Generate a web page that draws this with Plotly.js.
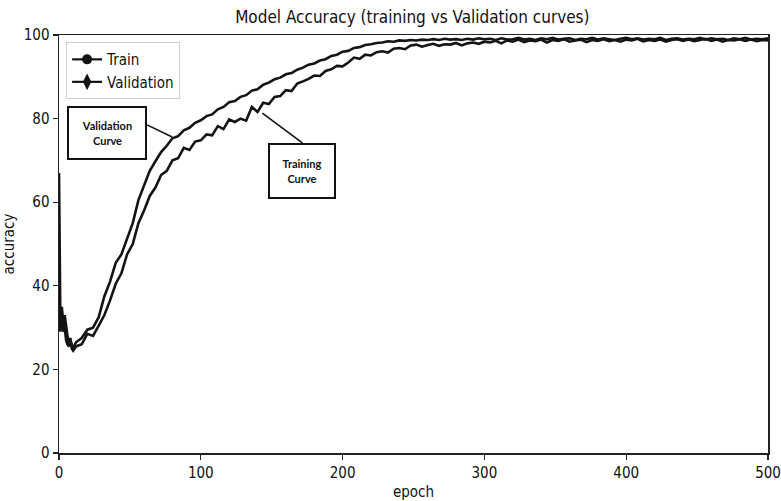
<!DOCTYPE html>
<html>
<head>
<meta charset="utf-8">
<script src="https://cdn.plot.ly/plotly-3.0.1.min.js"></script>
<style>html,body{margin:0;padding:0;background:#fff}#chart{width:781px;height:501px}</style>
</head>
<body>
<div id="chart"></div>
<script>
const epochs = [0,1,2,3,4,5,6,7,8,9,10,12,16,20,24,28,32,36,40,44,48,52,56,60,64,68,72,76,80,84,88,92,96,100,104,108,112,116,120,124,128,132,136,140,144,148,152,156,160,164,168,172,176,180,184,188,192,196,200,204,208,212,216,220,224,228,232,236,240,244,248,252,256,260,264,268,272,276,280,284,288,292,296,300,304,308,312,316,320,324,328,332,336,340,344,348,352,356,360,364,368,372,376,380,384,388,392,396,400,404,408,412,416,420,424,428,432,436,440,444,448,452,456,460,464,468,472,476,480,484,488,492,496,500];

const trainAcc = [67,30,35,29,33,30,28,26,27.5,25,24.5,
  25.5,26,28.5,28,30.5,33,36.5,40.5,43,47.5,50,55,58,61.5,63.5,66.5,67.5,70,70.5,73,72.5,74.5,74.8,
  76.2,76,78.2,77.5,79.8,79.2,80,79.5,82.8,81.6,83.8,83.5,85.2,85.4,86.8,86.6,88.4,88.9,89.5,90.3,90.2,
  91.4,91.8,92.6,92.5,93.4,94.6,94.3,95.3,95.1,95.9,96.1,95.8,96.7,96.9,96.6,97.5,97.7,97.2,97.6,97.9,
  97.4,97.8,97.7,98.1,97.5,98,98.2,97.9,98.4,
  98.2,98.6,98.0,98.7,98.4,98.9,98.3,98.7,98.5,98.9,
  98.2,98.8,98.6,99.0,98.4,98.7,98.9,98.3,98.8,98.6,
  99.0,98.5,98.8,98.4,98.9,98.7,99.1,98.5,98.8,98.6,
  98.9,98.4,98.8,99.0,98.6,98.9,98.5,98.8,99.1,98.6,
  98.9,98.4,98.8,98.7,99.0,98.6,98.9,98.5,98.8,98.7];

const valAcc = [36,29,34,31,30,27,26,25.5,27,26,25,
  26.5,27.5,29.5,30,32.5,37.5,41,45.5,47.5,51.5,55,60.5,64,67.5,69.8,72,73.5,75.3,75.8,77.2,77.8,79,79.6,
  80.6,81,82.2,82.8,83.9,84.2,85.2,85.6,86.7,87,88.1,88.6,89.4,89.8,90.6,90.9,91.7,92.2,92.9,93.2,93.9,
  94.2,95,95.3,96,96.2,96.9,97.1,97.6,97.8,98.1,98.2,98.5,98.4,98.7,98.6,98.8,98.7,98.9,98.8,99.0,
  98.8,99.1,98.9,99.0,98.8,99.1,98.9,99.2,99.0,
  99.1,98.8,99.2,98.9,99.0,99.3,98.9,99.1,98.8,99.2,
  99.0,99.3,98.9,99.1,99.2,98.8,99.1,99.0,99.3,98.9,
  99.2,99.0,98.8,99.1,99.3,99.0,99.2,98.9,99.1,99.0,
  99.3,98.8,99.1,99.2,98.9,99.1,99.0,99.3,98.9,99.2,
  99.0,99.1,98.8,99.2,99.0,99.3,98.9,99.1,99.0,99.2];

const seriesNames = ["Train", "Validation"];
const titleText = "Model Accuracy (training vs Validation curves)";
const xTicks = [0,100,200,300,400,500];
const yTicks = [0,20,40,60,80,100];

const lineColor = "#141414";
const mainFont = "DejaVu Sans Condensed, DejaVu Sans, sans-serif";
const noteFont = "Lato, Carlito, sans-serif";

const traces = [
  {x: epochs, y: valAcc, mode: "lines", line: {color: lineColor, width: 2.6}, showlegend: false, hoverinfo: "skip"},
  {x: epochs, y: trainAcc, mode: "lines", line: {color: lineColor, width: 2.6}, showlegend: false, hoverinfo: "skip"},
  {x: [null], y: [null], name: seriesNames[0], mode: "lines+markers", line: {color: lineColor, width: 2.2}, marker: {symbol: "circle", size: 10, color: lineColor}},
  {x: [null], y: [null], name: seriesNames[1], mode: "lines+markers", line: {color: lineColor, width: 2.2}, marker: {symbol: "diamond-tall", size: 12, color: lineColor}}
];

const axisCommon = {
  showline: true, mirror: true, linecolor: "#222", linewidth: 1.5,
  ticks: "outside", ticklen: 5, tickwidth: 1.2, tickcolor: "#222",
  showgrid: false, zeroline: false,
  tickfont: {family: mainFont, size: 15, color: "#111"}
};

const layout = {
  width: 781, height: 501,
  margin: {l: 59, r: 13, t: 35, b: 48},
  paper_bgcolor: "#fff", plot_bgcolor: "#fff",
  title: {text: titleText, font: {family: mainFont, size: 17, color: "#111"}, x: 0.528, xanchor: "center", y: 0.965, yanchor: "middle"},
  xaxis: Object.assign({}, axisCommon, {range: [0, 500], tickvals: xTicks, ticktext: xTicks.map(String),
    title: {text: "epoch", font: {family: mainFont, size: 15, color: "#111"}, standoff: 6}}),
  yaxis: Object.assign({}, axisCommon, {range: [0, 100], tickvals: yTicks, ticktext: yTicks.map(String),
    title: {text: "accuracy", font: {family: mainFont, size: 15, color: "#111"}, standoff: 12}}),
  legend: {x: 0.01, y: 0.983, xanchor: "left", yanchor: "top", bgcolor: "#fff", bordercolor: "#cfcfcf", borderwidth: 1,
    font: {family: mainFont, size: 15, color: "#111"}, itemwidth: 30, tracegroupgap: 0},
  shapes: [
    {type: "line", xref: "x", yref: "y", x0: 62.1, y0: 78.5, x1: 79.8, y1: 75.6, line: {color: "#111", width: 1.6}},
    {type: "line", xref: "x", yref: "y", x0: 143.4, y0: 81.3, x1: 171.6, y1: 74.2, line: {color: "#111", width: 1.6}}
  ],
  annotations: [
    {xref: "x", yref: "y", x: 33.9, y: 76.6, text: "<b>Validation</b><br><b>Curve</b>", showarrow: false,
      width: 76, height: 50, borderpad: 0, bordercolor: "#111", borderwidth: 2, bgcolor: "#fff",
      font: {family: noteFont, size: 11, color: "#111"}},
    {xref: "x", yref: "y", x: 171.6, y: 67.5, text: "<b>Training</b><br><b>Curve</b>", showarrow: false,
      width: 64, height: 52, borderpad: 0, bordercolor: "#111", borderwidth: 2, bgcolor: "#fff",
      font: {family: noteFont, size: 11, color: "#111"}}
  ]
};

Plotly.newPlot("chart", traces, layout, {staticPlot: true, displayModeBar: false});
</script>
</body>
</html>
